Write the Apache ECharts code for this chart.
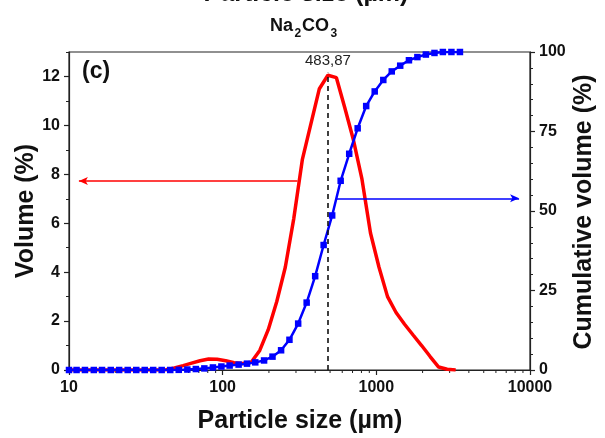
<!DOCTYPE html>
<html>
<head>
<meta charset="utf-8">
<script src="https://cdn.jsdelivr.net/npm/echarts@6/dist/echarts.min.js"></script>
<style>
  html, body { margin: 0; padding: 0; background: #ffffff; }
  #chart { width: 605px; height: 438px; }
</style>
</head>
<body>
<div id="chart"></div>
<script>
const FONT = '"Liberation Sans", Arial, Helvetica, sans-serif';

// Volume density distribution: particle size (µm) and volume (%)
const volumeSize = [10, 37.7, 42.8, 48.6, 55.3, 62.8, 71.3, 81, 92.1, 104.6,
  118.8, 135, 153.4, 174.3, 198, 225, 255.6, 290.4, 329.9, 374.8,
  425.9, 483.87, 549.8, 624.6, 709.7, 806.3, 916.1, 1040.9, 1182.6, 1343.7,
  1526.6, 1734.5, 1970.7, 2239, 2544, 2890, 3284];
const volumeValues = [0, 0, 0.01, 0.08, 0.18, 0.28, 0.38, 0.45, 0.44, 0.38,
  0.3, 0.27, 0.32, 0.8, 1.65, 2.8, 4.2, 6.2, 8.6, 10.05,
  11.5, 12.05, 11.95, 10.7, 9.4, 7.8, 5.6, 4.2, 3.0, 2.35,
  1.87, 1.43, 1.0, 0.55, 0.12, 0.03, 0];

// Cumulative volume (%) per size class
const cumSize = [10, 11.2, 12.7, 14.5, 16.4, 18.7, 21.2, 24.1, 27.4, 31.1,
  35.3, 40.1, 45.6, 51.8, 58.9, 66.9, 76.0, 86.4, 98.1, 111,
  127, 144, 163, 186, 211, 240, 272, 310, 352, 400,
  454, 516, 586, 666, 756, 859, 976, 1110, 1260, 1430,
  1630, 1850, 2100, 2390, 2710, 3080, 3500];
const cumValues = [0, 0, 0, 0, 0, 0, 0, 0, 0, 0,
  0, 0, 0, 0.05, 0.15, 0.3, 0.5, 0.8, 1.1, 1.4,
  1.7, 2.0, 2.4, 3.0, 4.2, 6.2, 9.5, 14.6, 21.2, 29.5,
  39.3, 48.6, 59.5, 68, 76, 83, 87.6, 91.2, 93.9, 95.7,
  97.4, 98.4, 99.2, 99.7, 100, 100, 100];

// Mode of the volume distribution (µm) and its peak value (%)
const modeSize = 483.87;
const modePeak = 12.05;

// Tick values
const volumeTicks = [0, 2, 4, 6, 8, 10, 12];
const volumeMinorTicks = [1, 3, 5, 7, 9, 11, 13];
const sizeMinorTicks = [20, 30, 40, 50, 60, 70, 80, 90,
  200, 300, 400, 500, 600, 700, 800, 900,
  2000, 3000, 4000, 5000, 6000, 7000, 8000, 9000];
const cumInterval = 25;

const AXIS_COLOR = '#222';
const tickLabel = { fontFamily: FONT, fontWeight: 'bold', fontSize: 16, color: '#111' };

const pairs = (xs, ys) => xs.map((x, i) => [x, ys[i]]);

const chart = echarts.init(document.getElementById('chart'), null, { renderer: 'canvas' });

chart.setOption({
  animation: false,
  backgroundColor: '#ffffff',
  grid: {
    left: 69, right: 75, top: 52, bottom: 68,
    show: true, borderColor: AXIS_COLOR, borderWidth: 1.2, backgroundColor: 'transparent'
  },
  xAxis: [
    {
      type: 'log', logBase: 10, min: 10, max: 10000, position: 'bottom',
      axisLine: { show: true, lineStyle: { color: AXIS_COLOR, width: 1.2 } },
      axisTick: { show: true, inside: false, length: 5, lineStyle: { color: AXIS_COLOR, width: 1.2 } },
      axisLabel: Object.assign({ margin: 10, formatter: v => String(Math.round(v)) }, tickLabel),
      splitLine: { show: false }, minorTick: { show: false }
    }
  ],
  yAxis: [
    {
      type: 'value', min: 0, max: 13, position: 'left',
      axisLine: { show: true, lineStyle: { color: AXIS_COLOR, width: 1.2 } },
      axisTick: { show: true, inside: false, length: 5, customValues: volumeTicks,
        lineStyle: { color: AXIS_COLOR, width: 1.2 } },
      axisLabel: Object.assign({ margin: 9, customValues: volumeTicks }, tickLabel),
      splitLine: { show: false }
    },
    {
      type: 'value', min: 0, max: 100, interval: cumInterval, position: 'right',
      axisLine: { show: true, lineStyle: { color: AXIS_COLOR, width: 1.2 } },
      axisTick: { show: true, inside: false, length: 5, lineStyle: { color: AXIS_COLOR, width: 1.2 } },
      minorTick: { show: true, splitNumber: 5, length: 3, lineStyle: { color: AXIS_COLOR, width: 1 } },
      axisLabel: Object.assign({ margin: 9 }, tickLabel),
      splitLine: { show: false }
    },
    {
      type: 'value', min: 0, max: 13, position: 'left',
      axisLine: { show: false },
      axisTick: { show: true, inside: false, length: 3, customValues: volumeMinorTicks,
        lineStyle: { color: AXIS_COLOR, width: 1 } },
      axisLabel: { show: false },
      splitLine: { show: false }
    }
  ],
  series: [
    {
      // minor ticks of the logarithmic size axis (2..9 within each decade)
      name: 'size minor ticks',
      type: 'custom',
      xAxisIndex: 0, yAxisIndex: 0,
      clip: false, silent: true,
      data: sizeMinorTicks.map(v => [v, 0]),
      renderItem: (params, api) => {
        const p = api.coord([api.value(0), 0]);
        return {
          type: 'line',
          shape: { x1: p[0], y1: p[1], x2: p[0], y2: p[1] + 3 },
          style: { stroke: AXIS_COLOR, lineWidth: 1 }
        };
      },
      z: 1
    },
    {
      name: 'Volume',
      type: 'line',
      xAxisIndex: 0, yAxisIndex: 0,
      data: pairs(volumeSize, volumeValues),
      showSymbol: false,
      lineStyle: { color: '#ff0000', width: 3.5 },
      itemStyle: { color: '#ff0000' },
      z: 2,
      markLine: {
        silent: true,
        animation: false,
        data: [
          [
            { coord: [modeSize, 0], symbol: 'none' },
            { coord: [modeSize, modePeak + 0.1], symbol: 'none' }
          ],
          [
            { coord: [307, 7.73], symbol: 'none',
              lineStyle: { color: '#ff0000', width: 1.5, type: 'solid' },
              label: { show: false } },
            { coord: [11.6, 7.73], symbol: 'arrow', symbolSize: [6, 9] }
          ]
        ],
        lineStyle: { color: '#111', width: 1.6, type: [5, 4] },
        label: {
          show: true, position: 'end', distance: 4,
          formatter: () => modeSize.toFixed(2).replace('.', ','),
          fontFamily: FONT, fontSize: 15, color: '#222'
        }
      }
    },
    {
      name: 'Cumulative volume',
      type: 'line',
      xAxisIndex: 0, yAxisIndex: 1,
      data: pairs(cumSize, cumValues),
      symbol: 'rect', symbolSize: 6.5, showAllSymbol: true,
      lineStyle: { color: '#0000ff', width: 2.5 },
      itemStyle: { color: '#0000ff' },
      z: 3,
      markLine: {
        silent: true,
        animation: false,
        symbol: ['none', 'arrow'],
        symbolSize: [6, 9],
        label: { show: false },
        lineStyle: { color: '#0000ff', width: 1.5, type: 'solid' },
        data: [
          [ { coord: [552, 54] }, { coord: [8490, 54] } ]
        ]
      }
    }
  ],
  graphic: [
    { type: 'text', x: 306, y: -5.5, style: { text: 'Particle size (µm)', align: 'center', verticalAlign: 'middle',
        font: 'bold 25px ' + FONT, fill: '#111' } },
    { type: 'text', x: 270, y: 26, style: { text: 'Na', align: 'left', verticalAlign: 'middle',
        font: 'bold 18px ' + FONT, fill: '#111' } },
    { type: 'text', x: 294.5, y: 33.5, style: { text: '2', align: 'left', verticalAlign: 'middle',
        font: 'bold 12px ' + FONT, fill: '#111' } },
    { type: 'text', x: 302, y: 26, style: { text: 'CO', align: 'left', verticalAlign: 'middle',
        font: 'bold 18px ' + FONT, fill: '#111' } },
    { type: 'text', x: 330.5, y: 33.5, style: { text: '3', align: 'left', verticalAlign: 'middle',
        font: 'bold 12px ' + FONT, fill: '#111' } },
    { type: 'text', x: 82, y: 72, style: { text: '(c)', align: 'left', verticalAlign: 'middle',
        font: 'bold 23px ' + FONT, fill: '#111' } },
    { type: 'text', x: 300, y: 421, style: { text: 'Particle size (µm)', align: 'center', verticalAlign: 'middle',
        font: 'bold 25px ' + FONT, fill: '#111' } },
    { type: 'text', x: 26, y: 211, rotation: Math.PI / 2,
      style: { text: 'Volume (%)', align: 'center', verticalAlign: 'middle',
        font: 'bold 25px ' + FONT, fill: '#111' } },
    { type: 'text', x: 584, y: 212, rotation: Math.PI / 2,
      style: { text: 'Cumulative volume (%)', align: 'center', verticalAlign: 'middle',
        font: 'bold 25px ' + FONT, fill: '#111' } }
  ]
});
</script>
</body>
</html>
